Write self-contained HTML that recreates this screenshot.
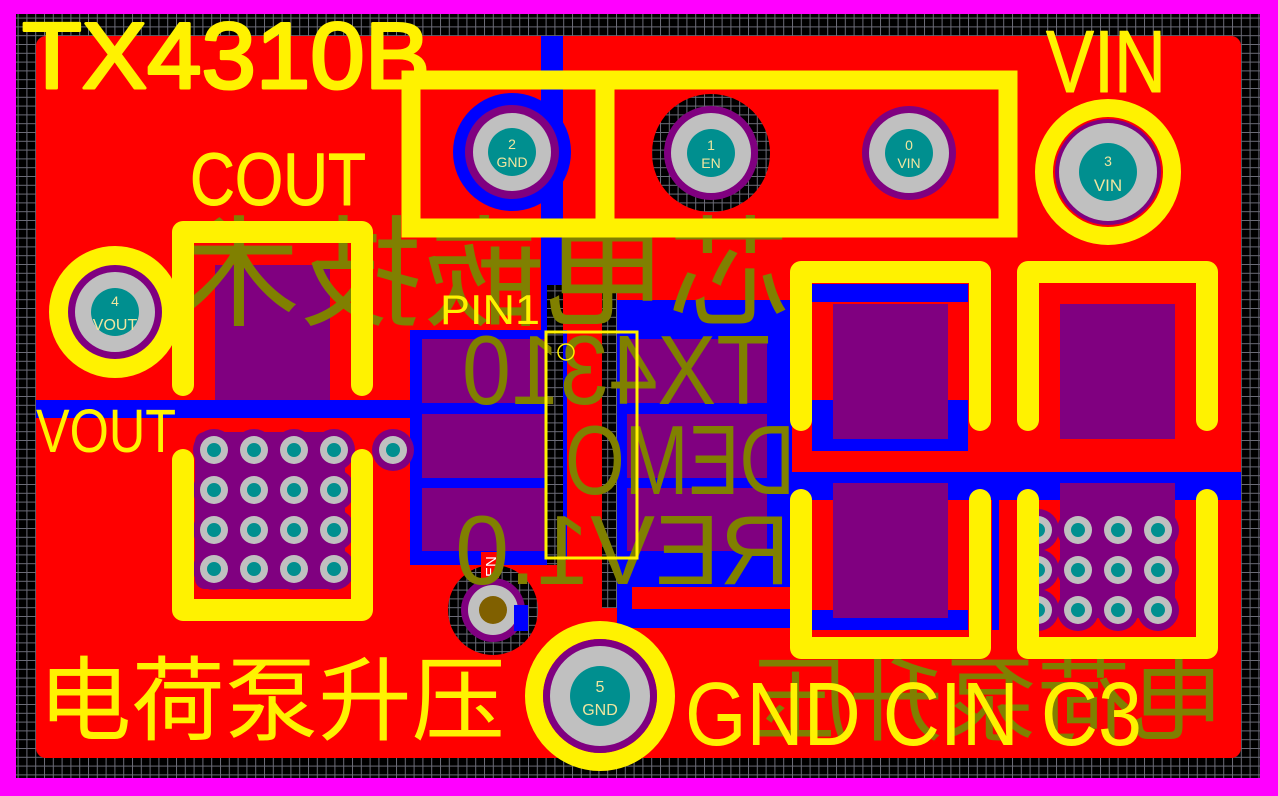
<!DOCTYPE html>
<html><head><meta charset="utf-8"><style>
html,body{margin:0;padding:0;background:#000;}
svg{display:block;}
text{font-family:"Liberation Sans","Noto Sans CJK SC",sans-serif;}
.cjk{font-family:"Noto Sans CJK SC","WenQuanYi Zen Hei",sans-serif;}
</style></head><body>
<svg width="1278" height="796" viewBox="0 0 1278 796" xmlns="http://www.w3.org/2000/svg">
<defs>
<pattern id="g" width="8.8" height="8.8" patternUnits="userSpaceOnUse">
<rect width="8.8" height="8.8" fill="#000"/>
<path d="M0 0.5H8.8M0.5 0V8.8" stroke="#6c6c78" stroke-width="1"/>
</pattern>
<g id="vl">
<circle r="21" fill="#800080"/><circle r="14" fill="#c0c0c0"/><circle r="7" fill="#008f8f"/>
</g>
</defs>
<rect width="1278" height="796" fill="#ff00ff"/>
<rect x="16" y="14" width="1244" height="764" fill="url(#g)"/>
<rect x="36" y="36" width="1205" height="722" rx="10" fill="#ff0000"/>
<rect x="541" y="36" width="22" height="300" fill="#0000ff"/>
<rect x="36" y="400" width="380" height="18" fill="#0000ff"/>
<rect x="410" y="330" width="157" height="235" fill="#0000ff"/>
<rect x="617" y="300" width="175" height="328" fill="#0000ff"/>
<rect x="632" y="587" width="158" height="22" fill="#ff0000"/>
<rect x="560" y="560" width="57" height="50" fill="#ff0000"/>
<rect x="780" y="472" width="461" height="28" fill="#0000ff"/>
<rect x="812" y="284" width="156" height="18" fill="#0000ff"/>
<rect x="812" y="400" width="156" height="51" fill="#0000ff"/>
<rect x="812" y="610" width="156" height="20" fill="#0000ff"/>
<rect x="992" y="500" width="7" height="130" fill="#0000ff"/>
<rect x="547" y="285" width="16" height="280" fill="url(#g)"/>
<rect x="602" y="290" width="15" height="318" fill="url(#g)"/>
<circle cx="512" cy="152" r="59" fill="#0000ff"/>
<circle cx="711" cy="153" r="59" fill="url(#g)"/>
<circle cx="493" cy="610" r="45" fill="url(#g)"/>
<g fill="#800080">
<rect x="215" y="265" width="115" height="135"/>
<rect x="422" y="339" width="123" height="64"/>
<rect x="422" y="414" width="123" height="64"/>
<rect x="422" y="488" width="123" height="63"/>
<rect x="627" y="339" width="140" height="64"/>
<rect x="627" y="414" width="140" height="64"/>
<rect x="627" y="488" width="140" height="63"/>
<rect x="833" y="304" width="115" height="135"/>
<rect x="833" y="483" width="115" height="135"/>
<rect x="1060" y="304" width="115" height="135"/>
<rect x="1060" y="483" width="115" height="135"/>
<rect x="195" y="432" width="150" height="157" rx="10"/>
</g>
<g>
<use href="#vl" x="214" y="450"/><use href="#vl" x="254" y="450"/><use href="#vl" x="294" y="450"/><use href="#vl" x="334" y="450"/>
<use href="#vl" x="214" y="490"/><use href="#vl" x="254" y="490"/><use href="#vl" x="294" y="490"/><use href="#vl" x="334" y="490"/>
<use href="#vl" x="214" y="530"/><use href="#vl" x="254" y="530"/><use href="#vl" x="294" y="530"/><use href="#vl" x="334" y="530"/>
<use href="#vl" x="214" y="569"/><use href="#vl" x="254" y="569"/><use href="#vl" x="294" y="569"/><use href="#vl" x="334" y="569"/>
<use href="#vl" x="393" y="450"/>
<use href="#vl" x="1038" y="530"/><use href="#vl" x="1078" y="530"/><use href="#vl" x="1118" y="530"/><use href="#vl" x="1158" y="530"/>
<use href="#vl" x="1038" y="570"/><use href="#vl" x="1078" y="570"/><use href="#vl" x="1118" y="570"/><use href="#vl" x="1158" y="570"/>
<use href="#vl" x="1038" y="610"/><use href="#vl" x="1078" y="610"/><use href="#vl" x="1118" y="610"/><use href="#vl" x="1158" y="610"/>
</g>
<circle cx="493" cy="610" r="32" fill="#800080"/><circle cx="493" cy="610" r="25" fill="#c0c0c0"/><circle cx="493" cy="610" r="14" fill="#806000"/>
<rect x="481" y="552" width="18" height="26" fill="#ff0000"/>
<text x="0" y="0" font-size="15" fill="#ffffff" transform="translate(496,577) rotate(-90)">EN</text>
<rect x="514" y="605" width="14" height="26" fill="#0000ff"/>
<g fill="#808000">
<text class="cjk" font-size="120" textLength="612" lengthAdjust="spacingAndGlyphs" transform="translate(790,316) scale(-1,1)">芯电嵌技术</text>
<text font-size="98" textLength="308" lengthAdjust="spacingAndGlyphs" transform="translate(770,404) scale(-1,1)">TX4310</text>
<text font-size="98" textLength="230" lengthAdjust="spacingAndGlyphs" transform="translate(795,494) scale(-1,1)">DEMO</text>
<text font-size="98" textLength="335" lengthAdjust="spacingAndGlyphs" transform="translate(790,584) scale(-1,1)">REV1.0</text>
<text class="cjk" font-size="92" textLength="470" lengthAdjust="spacingAndGlyphs" transform="translate(1225,733) scale(-1,1)">电荷泵升压</text>
</g>
<g font-size="14" fill="#f0e6a0" text-anchor="middle">
<circle cx="512" cy="152" r="47" fill="#800080"/><circle cx="512" cy="152" r="39" fill="#c0c0c0"/><circle cx="512" cy="152" r="24" fill="#008f8f"/>
<text x="512" y="149">2</text><text x="512" y="167">GND</text>
<circle cx="711" cy="153" r="47" fill="#800080"/><circle cx="711" cy="153" r="40" fill="#c0c0c0"/><circle cx="711" cy="153" r="24" fill="#008f8f"/>
<text x="711" y="150">1</text><text x="711" y="168">EN</text>
<circle cx="909" cy="153" r="47" fill="#800080"/><circle cx="909" cy="153" r="40" fill="#c0c0c0"/><circle cx="909" cy="153" r="24" fill="#008f8f"/>
<text x="909" y="150">0</text><text x="909" y="168">VIN</text>
<circle cx="1108" cy="172" r="64" fill="none" stroke="#fff200" stroke-width="18"/>
<circle cx="1108" cy="172" r="53" fill="#800080"/><circle cx="1108" cy="172" r="49" fill="#c0c0c0"/><circle cx="1108" cy="172" r="29" fill="#008f8f"/>
<text x="1108" y="166">3</text><text x="1108" y="191" font-size="17">VIN</text>
<circle cx="115" cy="312" r="56" fill="none" stroke="#fff200" stroke-width="20"/>
<circle cx="115" cy="312" r="47" fill="#800080"/><circle cx="115" cy="312" r="40" fill="#c0c0c0"/><circle cx="115" cy="312" r="24" fill="#008f8f"/>
<text x="115" y="306">4</text><text x="115" y="330" font-size="16">VOUT</text>
<circle cx="600" cy="696" r="66" fill="none" stroke="#fff200" stroke-width="18"/>
<circle cx="600" cy="696" r="57" fill="#800080"/><circle cx="600" cy="696" r="50" fill="#c0c0c0"/><circle cx="600" cy="696" r="30" fill="#008f8f"/>
<text x="600" y="692" font-size="16">5</text><text x="600" y="715" font-size="16">GND</text>
</g>
<g fill="none" stroke="#fff200" stroke-width="22" stroke-linecap="round" stroke-linejoin="round">
<rect x="411" y="80" width="597" height="148" stroke-width="19" stroke-linecap="butt" stroke-linejoin="miter"/>
<line x1="605" y1="80" x2="605" y2="228" stroke-width="19" stroke-linecap="butt"/>
<path d="M183 385V232H362V385"/>
<path d="M183 460V610H362V460"/>
<path d="M801 420V272H980V420"/>
<path d="M801 500V648H980V500"/>
<path d="M1028 420V272H1207V420"/>
<path d="M1028 500V648H1207V500"/>
</g>
<rect x="546" y="332" width="91" height="226" fill="none" stroke="#fff200" stroke-width="3"/>
<circle cx="566" cy="352" r="8" fill="none" stroke="#fff200" stroke-width="1.5"/>
<g fill="#fff200" stroke="#fff200" stroke-linejoin="round">
<text x="22" y="88" font-size="94" stroke-width="3" textLength="408" lengthAdjust="spacingAndGlyphs">TX4310B</text>
<text x="190" y="205" font-size="74" stroke-width="1" textLength="176" lengthAdjust="spacingAndGlyphs">COUT</text>
<text x="1046" y="92" font-size="88" stroke-width="1" textLength="120" lengthAdjust="spacingAndGlyphs">VIN</text>
<text x="36" y="452" font-size="61" stroke-width="0" textLength="140" lengthAdjust="spacingAndGlyphs">VOUT</text>
<text x="440" y="324" font-size="42" stroke-width="0" textLength="100" lengthAdjust="spacingAndGlyphs">PIN1</text>
<text class="cjk" x="38" y="733" font-size="92" stroke-width="0" textLength="467" lengthAdjust="spacingAndGlyphs">电荷泵升压</text>
<text x="685" y="745" font-size="90" stroke-width="0" textLength="457" lengthAdjust="spacingAndGlyphs">GND CIN C3</text>
</g>
</svg>
</body></html>
